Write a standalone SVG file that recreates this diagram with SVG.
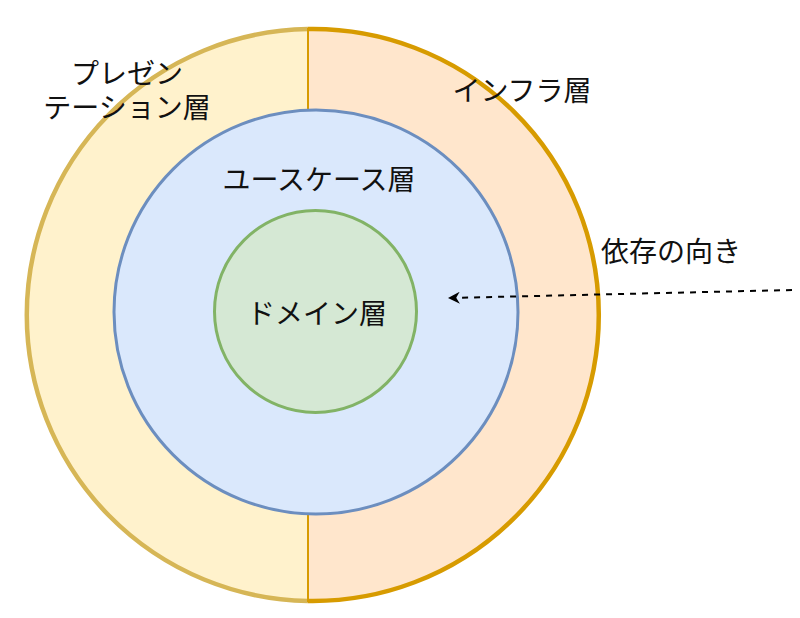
<svg xmlns="http://www.w3.org/2000/svg" width="800" height="618" viewBox="0 0 800 618">
<defs>
<style>
.lbl{font-family:"Noto Sans CJK JP","Noto Sans",sans-serif;font-size:28px;fill:#111111;text-anchor:middle;dominant-baseline:central}
</style>
<marker id="arr" viewBox="0 0 10 10" refX="9" refY="5" markerWidth="6" markerHeight="6" orient="auto-start-reverse" markerUnits="strokeWidth">
<path d="M10,5 L0,0 L3,5 L0,10 Z" fill="#000"/>
</marker>
</defs>
<rect width="800" height="618" fill="#ffffff"/>
<g id="presentation">
<path d="M308,29.04 A286,286 0 0 0 308,600.96 Z" fill="#fff2cc" stroke="none"/>
<path d="M308,29.04 A286,286 0 0 0 308,600.96" fill="none" stroke="#d6b656" stroke-width="4.5"/>
<text class="lbl"><tspan x="127" y="72">プレゼン</tspan><tspan x="127" y="106">テーション層</tspan></text>
</g>
<g id="infra">
<path d="M308,29.04 A286,286 0 1 1 308,600.96 Z" fill="#ffe6cc" stroke="none"/>
<path d="M308,29.04 A286,286 0 1 1 308,600.96" fill="none" stroke="#d79b00" stroke-width="4.5"/>
<line x1="308" y1="28" x2="308" y2="602" stroke="#d79b00" stroke-width="2"/>
<text class="lbl" x="522" y="89">インフラ層</text>
</g>
<g id="usecase">
<circle cx="316" cy="312" r="202" fill="#dae8fc" stroke="#6c8ebf" stroke-width="3"/>
<text class="lbl" x="319" y="178">ユースケース層</text>
</g>
<g id="domain">
<circle cx="315.5" cy="311.5" r="101" fill="#d5e8d4" stroke="#82b366" stroke-width="3"/>
<text class="lbl" x="317" y="312">ドメイン層</text>
</g>
<g id="connectors">
<line x1="792" y1="290" x2="449" y2="298" stroke="#000" stroke-width="2" stroke-dasharray="6 6" marker-end="url(#arr)"/>
</g>
<g id="dep-label">
<text class="lbl" x="671" y="250">依存の向き</text>
</g>
</svg>
